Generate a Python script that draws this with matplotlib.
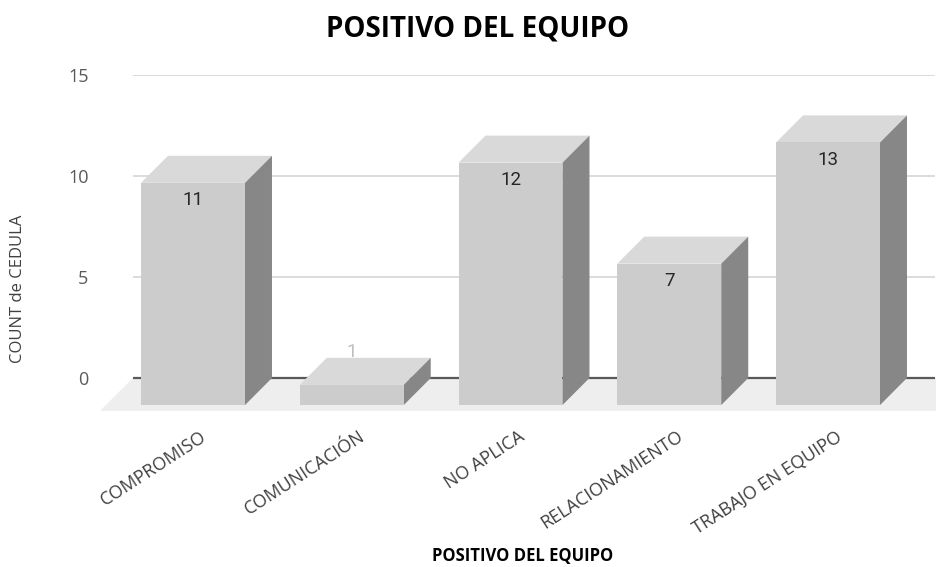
import matplotlib.pyplot as plt
from matplotlib.patches import Polygon, Rectangle

categories = ["COMPROMISO", "COMUNICACIÓN", "NO APLICA", "RELACIONAMIENTO", "TRABAJO EN EQUIPO"]
counts = [11, 1, 12, 7, 13]
yticks = [0, 5, 10, 15]

title = "POSITIVO DEL EQUIPO"
xlabel = "POSITIVO DEL EQUIPO"
ylabel = "COUNT de CEDULA"

# 3d look: bar width and depth in data units
w = 0.655
dx, dy = 0.17, 1.34
floor_dx, floor_dy = 0.208, 1.63

front_c = "#cccccc"
top_c = "#d9d9d9"
side_c = "#878787"
txt_c = "#404040"

fig = plt.figure(figsize=(9.37, 5.67), dpi=100)
ax = fig.add_axes([133 / 937, (567 - 418.4) / 567, 802 / 937, (418.4 - 75) / 567])
ax.set_xlim(-0.378, 4.674)
ax.set_ylim(-2, 15)

# floor
x0, x1 = -0.378, 4.674 + floor_dx
floor = Polygon([(x0, 0), (x1, 0), (x1 - floor_dx, -floor_dy), (x0 - floor_dx, -floor_dy)],
                closed=True, facecolor="#eeeeee", edgecolor="none", zorder=1, clip_on=False)
ax.add_patch(floor)

for t in yticks:
    if t == 0:
        ax.axhline(t, color="#595959", lw=1.6, zorder=2)
    else:
        ax.axhline(t, color="#d9d9d9", lw=1.3, zorder=0)

for i, v in enumerate(counts):
    l, r = i - w / 2, i + w / 2
    ax.add_patch(Rectangle((l, -dy), w, v, facecolor=front_c, edgecolor="none", zorder=4))
    ax.add_patch(Polygon([(l, v - dy), (r, v - dy), (r + dx, v), (l + dx, v)],
                         facecolor=top_c, edgecolor="none", zorder=3))
    ax.add_patch(Polygon([(r, -dy), (r + dx, 0), (r + dx, v), (r, v - dy)],
                         facecolor=side_c, edgecolor="none", zorder=3))
    if v >= 2:
        ax.annotate(str(v), (i, v - dy), xytext=(0, -12.5), textcoords="offset points",
                    ha="center", va="center", fontsize=13.5, color="#262626",
                    family="Roboto", zorder=5)
    else:
        ax.annotate(str(v), (i, v), xytext=(0, 4), textcoords="offset points",
                    ha="center", va="center", fontsize=13.5, color="#bfbfbf",
                    family="Roboto", zorder=5)
    ax.text(i + 0.045, -2.45, categories[i], rotation=33, rotation_mode="anchor",
            ha="right", va="top", fontsize=13, color=txt_c, family="Open Sans")

ax.set_yticks(yticks)
ax.set_yticklabels([str(t) for t in yticks], family="Open Sans", fontsize=13, color="#595959")
ax.tick_params(axis="y", length=0, pad=32)
ax.set_xticks([])
for s in ax.spines.values():
    s.set_visible(False)

fig.text(478 / 937, 1 - 29 / 567, title, ha="center", va="center", fontsize=20,
         fontweight="bold", family="Open Sans", color="black")
fig.text(523 / 937, 1 - 556 / 567, xlabel, ha="center", va="center", fontsize=12,
         fontweight="bold", family="Open Sans", color="black")
fig.text(18 / 937, 1 - 289 / 567, ylabel, ha="center", va="center", rotation=90,
         fontsize=12, family="Open Sans", color=txt_c)

fig.savefig("out.png", dpi=100)
